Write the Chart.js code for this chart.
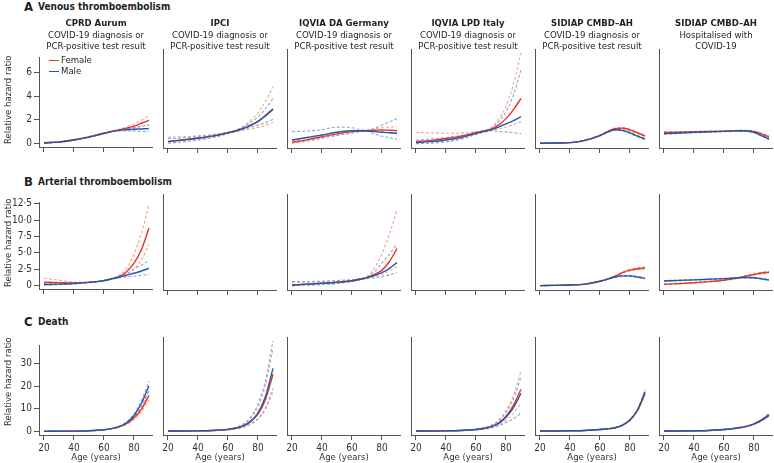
<!DOCTYPE html>
<html>
<head>
<meta charset="utf-8">
<script src="https://cdn.jsdelivr.net/npm/chart.js@4"></script>
<style>
body { margin: 0; background: #fff; font-family: 'Liberation Sans Narrow', 'DejaVu Sans Condensed', sans-serif; color: #231f20; }
#wrap { position: relative; width: 774px; height: 463px; overflow: hidden; }
#wrap canvas { position: absolute; }
.lbl { position: absolute; white-space: nowrap; font-size: 9px; line-height: 11.5px; }
.ptitle { text-align: center; width: 124px; font-size: 9.5px; }
.ptitle b { font-weight: bold; }
.rowletter { font-size: 13px; font-weight: bold; line-height: 13px; }
.rowname { font-weight: bold; font-size: 10px; }
.ylab { transform: rotate(-90deg); transform-origin: center; width: 120px; text-align: center; color: #333; font-size: 9.5px; }
.leg { font-size: 9.5px; }
.sw { position: absolute; width: 10px; height: 0; border-top: 1.5px solid; }
</style>
</head>
<body>
<div id="wrap"></div>
<script>
const ages = [20, 30, 40, 50, 60, 65, 70, 75, 80, 85, 90];
const xTicks = [20, 40, 60, 80];
const yTicksA = [0, 2, 4, 6];
const yTicksB = [0, 2.5, 5, 7.5, 10, 12.5];
const yTicksC = [0, 10, 20, 30];

const outcomes = ['Venous thromboembolism', 'Arterial thromboembolism', 'Death'];
const rowLetters = ['A', 'B', 'C'];
const sources = ['CPRD Aurum', 'IPCI', 'IQVIA DA Germany', 'IQVIA LPD Italy', 'SIDIAP CMBD–AH', 'SIDIAP CMBD–AH'];
const cohorts = [
    ['COVID-19 diagnosis or', 'PCR-positive test result'],
    ['COVID-19 diagnosis or', 'PCR-positive test result'],
    ['COVID-19 diagnosis or', 'PCR-positive test result'],
    ['COVID-19 diagnosis or', 'PCR-positive test result'],
    ['COVID-19 diagnosis or', 'PCR-positive test result'],
    ['Hospitalised with', 'COVID-19']
];

// A: venous thromboembolism
const vteCprdF   = [0.05, 0.12, 0.30, 0.55, 0.85, 1.00, 1.13, 1.28, 1.46, 1.70, 1.95];
const vteCprdFLo = [0.03, 0.10, 0.27, 0.52, 0.82, 0.98, 1.08, 1.18, 1.30, 1.45, 1.60];
const vteCprdFHi = [0.08, 0.15, 0.33, 0.58, 0.88, 1.02, 1.18, 1.38, 1.63, 1.97, 2.35];
const vteCprdM   = [0.03, 0.10, 0.28, 0.53, 0.85, 1.00, 1.10, 1.15, 1.19, 1.22, 1.25];
const vteCprdMLo = [0.02, 0.08, 0.25, 0.50, 0.82, 0.98, 1.05, 1.05, 1.03, 1.00, 0.98];
const vteCprdMHi = [0.05, 0.12, 0.31, 0.56, 0.88, 1.02, 1.15, 1.25, 1.35, 1.45, 1.55];

const vteIpciF   = [0.20, 0.32, 0.46, 0.62, 0.86, 1.00, 1.18, 1.42, 1.72, 2.15, 2.65];
const vteIpciFLo = [0.06, 0.15, 0.30, 0.50, 0.78, 0.94, 1.05, 1.15, 1.28, 1.45, 1.65];
const vteIpciFHi = [0.52, 0.56, 0.63, 0.73, 0.92, 1.06, 1.35, 1.80, 2.40, 3.30, 4.40];
const vteIpciM   = [0.18, 0.30, 0.44, 0.60, 0.85, 1.00, 1.20, 1.45, 1.75, 2.20, 2.70];
const vteIpciMLo = [0.08, 0.17, 0.32, 0.50, 0.80, 0.96, 1.10, 1.28, 1.45, 1.65, 1.90];
const vteIpciMHi = [0.40, 0.48, 0.58, 0.70, 0.90, 1.04, 1.30, 1.65, 2.10, 2.70, 3.50];

const vteGerF   = [0.13, 0.32, 0.56, 0.78, 0.95, 1.00, 1.03, 1.06, 1.08, 1.06, 1.03];
const vteGerFLo = [0.06, 0.22, 0.45, 0.68, 0.86, 0.97, 0.99, 0.98, 0.94, 0.86, 0.78];
const vteGerFHi = [0.25, 0.45, 0.70, 0.90, 1.05, 1.03, 1.07, 1.15, 1.25, 1.30, 1.35];
const vteGerM   = [0.31, 0.50, 0.69, 0.90, 1.02, 1.02, 1.00, 0.95, 0.90, 0.86, 0.82];
const vteGerMLo = [0.10, 0.25, 0.45, 0.65, 0.85, 0.95, 0.96, 0.76, 0.60, 0.48, 0.36];
const vteGerMHi = [0.95, 1.00, 1.10, 1.30, 1.25, 1.12, 1.05, 1.20, 1.45, 1.70, 1.95];

const vteItaF   = [0.18, 0.28, 0.42, 0.60, 0.88, 1.00, 1.15, 1.45, 1.95, 2.65, 3.50];
const vteItaFLo = [0.03, 0.08, 0.20, 0.42, 0.80, 0.95, 1.05, 1.15, 1.30, 1.50, 1.70];
const vteItaFHi = [0.90, 0.86, 0.82, 0.84, 0.95, 1.05, 1.25, 1.90, 2.90, 4.60, 7.00];
const vteItaM   = [0.10, 0.18, 0.31, 0.50, 0.80, 0.95, 1.08, 1.30, 1.55, 1.80, 2.10];
const vteItaMLo = [0.02, 0.06, 0.15, 0.36, 0.72, 0.90, 1.00, 0.97, 0.92, 0.86, 0.80];
const vteItaMHi = [0.30, 0.38, 0.50, 0.65, 0.88, 1.00, 1.20, 1.70, 2.50, 3.80, 5.70];

const vteSidF   = [0.05, 0.07, 0.10, 0.28, 0.66, 0.95, 1.18, 1.22, 1.08, 0.85, 0.62];
const vteSidFLo = [0.04, 0.06, 0.09, 0.26, 0.63, 0.91, 1.13, 1.16, 1.02, 0.79, 0.56];
const vteSidFHi = [0.06, 0.08, 0.11, 0.30, 0.69, 0.99, 1.23, 1.28, 1.14, 0.91, 0.68];
const vteSidM   = [0.05, 0.07, 0.10, 0.28, 0.65, 0.92, 1.10, 1.05, 0.85, 0.60, 0.38];
const vteSidMLo = [0.04, 0.06, 0.09, 0.26, 0.62, 0.88, 1.05, 1.00, 0.80, 0.55, 0.33];
const vteSidMHi = [0.06, 0.08, 0.11, 0.30, 0.68, 0.96, 1.15, 1.10, 0.90, 0.65, 0.43];

const vteHosF   = [0.88, 0.90, 0.93, 0.96, 0.99, 1.00, 1.02, 1.02, 0.95, 0.78, 0.55];
const vteHosFLo = [0.80, 0.84, 0.88, 0.92, 0.96, 0.98, 0.99, 0.98, 0.90, 0.72, 0.48];
const vteHosFHi = [0.96, 0.96, 0.98, 1.00, 1.02, 1.02, 1.05, 1.06, 1.00, 0.84, 0.62];
const vteHosM   = [0.80, 0.85, 0.90, 0.93, 0.97, 1.00, 1.02, 1.00, 0.90, 0.65, 0.38];
const vteHosMLo = [0.74, 0.80, 0.86, 0.90, 0.95, 0.98, 0.99, 0.96, 0.85, 0.60, 0.33];
const vteHosMHi = [0.86, 0.90, 0.94, 0.96, 0.99, 1.02, 1.05, 1.04, 0.95, 0.70, 0.43];

// B: arterial thromboembolism
const ateCprdF   = [0.50, 0.42, 0.37, 0.45, 0.72, 1.00, 1.35, 2.10, 3.40, 5.50, 8.80];
const ateCprdFLo = [0.18, 0.22, 0.27, 0.40, 0.68, 0.95, 1.20, 1.70, 2.50, 3.90, 6.30];
const ateCprdFHi = [1.10, 0.80, 0.52, 0.52, 0.77, 1.05, 1.50, 2.60, 4.80, 8.00, 12.40];
const ateCprdM   = [0.12, 0.18, 0.28, 0.45, 0.72, 0.98, 1.25, 1.55, 1.85, 2.20, 2.60];
const ateCprdMLo = [0.05, 0.10, 0.20, 0.40, 0.68, 0.93, 1.15, 1.30, 1.40, 1.55, 1.70];
const ateCprdMHi = [0.30, 0.32, 0.38, 0.50, 0.76, 1.03, 1.35, 1.80, 2.50, 3.10, 3.80];

const ateGerF   = [0.14, 0.25, 0.37, 0.50, 0.70, 0.90, 1.15, 1.60, 2.20, 3.40, 5.20];
const ateGerFLo = [0.04, 0.10, 0.20, 0.35, 0.60, 0.80, 1.00, 1.25, 1.60, 2.10, 2.70];
const ateGerFHi = [0.50, 0.55, 0.60, 0.70, 0.85, 1.00, 1.30, 2.50, 4.50, 7.20, 10.60];
const ateGerM   = [0.14, 0.25, 0.37, 0.52, 0.75, 0.93, 1.15, 1.45, 1.85, 2.45, 3.25];
const ateGerMLo = [0.04, 0.10, 0.20, 0.36, 0.62, 0.85, 1.02, 1.15, 1.30, 1.55, 1.85];
const ateGerMHi = [0.60, 0.62, 0.66, 0.75, 0.88, 1.02, 1.30, 2.00, 3.20, 4.40, 5.80];

const ateSidF   = [0.05, 0.08, 0.14, 0.25, 0.65, 0.95, 1.35, 1.85, 2.20, 2.40, 2.50];
const ateSidFLo = [0.04, 0.07, 0.12, 0.23, 0.61, 0.90, 1.28, 1.76, 2.09, 2.27, 2.34];
const ateSidFHi = [0.06, 0.09, 0.16, 0.27, 0.69, 1.00, 1.42, 1.94, 2.31, 2.53, 2.66];
const ateSidM   = [0.05, 0.08, 0.14, 0.25, 0.65, 0.95, 1.25, 1.40, 1.40, 1.25, 1.05];
const ateSidMLo = [0.04, 0.07, 0.12, 0.23, 0.61, 0.90, 1.18, 1.32, 1.31, 1.16, 0.96];
const ateSidMHi = [0.06, 0.09, 0.16, 0.27, 0.69, 1.00, 1.32, 1.48, 1.49, 1.34, 1.14];

const ateHosF   = [0.23, 0.33, 0.45, 0.60, 0.80, 0.95, 1.15, 1.38, 1.60, 1.80, 1.90];
const ateHosFLo = [0.19, 0.29, 0.41, 0.56, 0.76, 0.91, 1.10, 1.31, 1.51, 1.69, 1.77];
const ateHosFHi = [0.27, 0.37, 0.49, 0.64, 0.84, 0.99, 1.20, 1.45, 1.69, 1.91, 2.03];
const ateHosM   = [0.70, 0.78, 0.85, 0.93, 1.02, 1.08, 1.14, 1.17, 1.15, 1.00, 0.83];
const ateHosMLo = [0.65, 0.73, 0.81, 0.89, 0.98, 1.04, 1.10, 1.12, 1.09, 0.94, 0.76];
const ateHosMHi = [0.75, 0.83, 0.89, 0.97, 1.06, 1.12, 1.18, 1.22, 1.21, 1.06, 0.90];

// C: death
const dthCprdF   = [0.00, 0.02, 0.08, 0.25, 0.70, 1.20, 2.00, 3.40, 5.90, 9.80, 15.90];
const dthCprdFLo = [0.00, 0.01, 0.06, 0.22, 0.65, 1.12, 1.85, 3.10, 5.30, 8.70, 13.90];
const dthCprdFHi = [0.01, 0.03, 0.10, 0.28, 0.75, 1.28, 2.15, 3.70, 6.50, 10.90, 18.00];
const dthCprdM   = [0.00, 0.02, 0.08, 0.25, 0.70, 1.20, 2.10, 3.80, 7.00, 12.50, 20.00];
const dthCprdMLo = [0.00, 0.01, 0.06, 0.22, 0.65, 1.12, 1.95, 3.50, 6.40, 11.30, 17.90];
const dthCprdMHi = [0.01, 0.03, 0.10, 0.28, 0.75, 1.28, 2.25, 4.10, 7.60, 13.70, 22.10];

const dthIpciF   = [0.00, 0.02, 0.07, 0.22, 0.63, 1.10, 2.00, 3.70, 6.80, 12.80, 23.00];
const dthIpciFLo = [0.00, 0.01, 0.04, 0.15, 0.48, 0.85, 1.50, 2.70, 4.80, 8.80, 15.80];
const dthIpciFHi = [0.01, 0.04, 0.11, 0.30, 0.82, 1.42, 2.65, 5.10, 9.70, 18.60, 33.50];
const dthIpciM   = [0.00, 0.02, 0.07, 0.22, 0.65, 1.15, 2.10, 3.90, 7.40, 14.00, 25.40];
const dthIpciMLo = [0.00, 0.01, 0.04, 0.15, 0.50, 0.88, 1.55, 2.80, 5.00, 9.30, 17.30];
const dthIpciMHi = [0.01, 0.04, 0.12, 0.32, 0.85, 1.50, 2.80, 5.50, 11.00, 20.50, 36.50];

const dthItaF   = [0.00, 0.02, 0.07, 0.22, 0.60, 1.00, 1.75, 3.20, 6.00, 10.50, 16.90];
const dthItaFLo = [0.00, 0.01, 0.04, 0.15, 0.45, 0.75, 1.30, 2.30, 4.30, 7.20, 11.30];
const dthItaFHi = [0.00, 0.04, 0.12, 0.32, 0.80, 1.30, 2.30, 4.30, 8.30, 14.50, 24.40];
const dthItaM   = [0.00, 0.02, 0.07, 0.22, 0.60, 1.00, 1.70, 3.00, 5.60, 9.50, 15.30];
const dthItaMLo = [0.00, 0.01, 0.04, 0.14, 0.42, 0.70, 1.20, 2.00, 3.40, 5.00, 7.20];
const dthItaMHi = [0.00, 0.04, 0.12, 0.30, 0.78, 1.28, 2.20, 4.00, 7.60, 13.00, 21.80];

const dthSidF   = [0.00, 0.02, 0.08, 0.22, 0.60, 0.90, 1.30, 2.40, 4.50, 8.40, 15.20];
const dthSidFLo = [0.00, 0.01, 0.07, 0.20, 0.56, 0.85, 1.22, 2.28, 4.28, 7.98, 14.40];
const dthSidFHi = [0.01, 0.03, 0.09, 0.24, 0.64, 0.95, 1.38, 2.52, 4.72, 8.82, 16.00];
const dthSidM   = [0.00, 0.02, 0.08, 0.22, 0.60, 0.90, 1.30, 2.40, 4.50, 8.50, 15.90];
const dthSidMLo = [0.00, 0.01, 0.07, 0.20, 0.56, 0.85, 1.22, 2.28, 4.28, 8.08, 15.10];
const dthSidMHi = [0.01, 0.03, 0.09, 0.24, 0.64, 0.95, 1.38, 2.52, 4.72, 8.92, 16.70];

const dthHosF   = [0.00, 0.02, 0.08, 0.22, 0.60, 0.90, 1.30, 1.90, 2.90, 4.50, 6.70];
const dthHosFLo = [0.00, 0.01, 0.07, 0.20, 0.56, 0.85, 1.22, 1.80, 2.75, 4.25, 6.20];
const dthHosFHi = [0.01, 0.03, 0.09, 0.24, 0.64, 0.95, 1.38, 2.00, 3.05, 4.75, 7.20];
const dthHosM   = [0.00, 0.02, 0.08, 0.22, 0.60, 0.90, 1.30, 1.90, 2.80, 4.30, 6.30];
const dthHosMLo = [0.00, 0.01, 0.07, 0.20, 0.56, 0.85, 1.22, 1.80, 2.65, 4.05, 5.90];
const dthHosMHi = [0.01, 0.03, 0.09, 0.24, 0.64, 0.95, 1.38, 2.00, 2.95, 4.55, 6.70];

// [female, female lo, female hi, male, male lo, male hi]; null = no estimate
const panels = [
    [
        [vteCprdF, vteCprdFLo, vteCprdFHi, vteCprdM, vteCprdMLo, vteCprdMHi],
        [vteIpciF, vteIpciFLo, vteIpciFHi, vteIpciM, vteIpciMLo, vteIpciMHi],
        [vteGerF, vteGerFLo, vteGerFHi, vteGerM, vteGerMLo, vteGerMHi],
        [vteItaF, vteItaFLo, vteItaFHi, vteItaM, vteItaMLo, vteItaMHi],
        [vteSidF, vteSidFLo, vteSidFHi, vteSidM, vteSidMLo, vteSidMHi],
        [vteHosF, vteHosFLo, vteHosFHi, vteHosM, vteHosMLo, vteHosMHi]
    ],
    [
        [ateCprdF, ateCprdFLo, ateCprdFHi, ateCprdM, ateCprdMLo, ateCprdMHi],
        null,
        [ateGerF, ateGerFLo, ateGerFHi, ateGerM, ateGerMLo, ateGerMHi],
        null,
        [ateSidF, ateSidFLo, ateSidFHi, ateSidM, ateSidMLo, ateSidMHi],
        [ateHosF, ateHosFLo, ateHosFHi, ateHosM, ateHosMLo, ateHosMHi]
    ],
    [
        [dthCprdF, dthCprdFLo, dthCprdFHi, dthCprdM, dthCprdMLo, dthCprdMHi],
        [dthIpciF, dthIpciFLo, dthIpciFHi, dthIpciM, dthIpciMLo, dthIpciMHi],
        null,
        [dthItaF, dthItaFLo, dthItaFHi, dthItaM, dthItaMLo, dthItaMHi],
        [dthSidF, dthSidFLo, dthSidFHi, dthSidM, dthSidMLo, dthSidMHi],
        [dthHosF, dthHosFLo, dthHosFHi, dthHosM, dthHosMLo, dthHosMHi]
    ]
];

const RED = '#e8332a', BLUE = '#1f5aa8', RED_CI = '#f5a684', BLUE_CI = '#8ea8d8', AXIS = '#555';
const FONT = "'Liberation Sans Narrow', 'DejaVu Sans Condensed', sans-serif";
Chart.defaults.font.family = FONT;
Chart.defaults.font.size = 10;
Chart.defaults.color = '#333';

// layout
const colX = [39, 163, 287, 411, 535, 659];
const rowTop = [49, 194, 337];
const rowBottom = [148, 290, 435];
const plotW = 114;
const yRange = [[-0.31, 7.31], [-0.56, 12.78], [-1.62, 38.1]];
const yTicks = [yTicksA, yTicksB, yTicksC];
const yFmt = [v => String(v), v => v === 0 ? '0' : v.toFixed(1).replace('.', '·'), v => String(v)];

const wrap = document.getElementById('wrap');

function pts(arr) {
    return ages.map((a, i) => ({ x: a, y: arr[i] }));
}

function line(arr, color, dashed, order) {
    return {
        data: pts(arr),
        borderColor: color,
        borderWidth: dashed ? 1.1 : 1.4,
        borderDash: dashed ? [3, 2] : [],
        pointRadius: 0,
        cubicInterpolationMode: 'monotone',
        fill: false,
        order: order
    };
}

function addText(html, cls, left, top) {
    const d = document.createElement('div');
    d.className = 'lbl ' + cls;
    d.innerHTML = html;
    d.style.left = left + 'px';
    d.style.top = top + 'px';
    wrap.appendChild(d);
}

function makePanel(r, c, s) {
    const padL = c === 0 ? 39 : 10;
    const padB = r === 2 ? 28 : 7;
    const w = padL + plotW;
    const h = rowBottom[r] - rowTop[r] + padB;
    const cv = document.createElement('canvas');
    cv.width = w; cv.height = h;
    cv.style.width = w + 'px'; cv.style.height = h + 'px';
    cv.style.left = (colX[c] - padL) + 'px';
    cv.style.top = rowTop[r] + 'px';
    wrap.appendChild(cv);

    const datasets = s ? [
        line(s[3], BLUE, false, 0),
        line(s[0], RED, false, 1),
        line(s[4], BLUE_CI, true, 2),
        line(s[5], BLUE_CI, true, 3),
        line(s[1], RED_CI, true, 4),
        line(s[2], RED_CI, true, 5)
    ] : [];

    new Chart(cv, {
        type: 'line',
        data: { datasets: datasets },
        options: {
            responsive: false,
            animation: false,
            events: [],
            layout: { padding: 0 },
            plugins: { legend: { display: false }, tooltip: { enabled: false } },
            scales: {
                x: {
                    type: 'linear',
                    min: 16.67,
                    max: 92.67,
                    afterBuildTicks: sc => { sc.ticks = xTicks.map(v => ({ value: v })); },
                    afterFit: sc => { sc.height = padB; },
                    grid: { drawOnChartArea: false, drawTicks: true, tickLength: 5, color: AXIS },
                    border: { color: AXIS, width: 1 },
                    ticks: { display: r === 2, padding: 2, color: '#333', font: { size: 10 }, maxRotation: 0 },
                    title: { display: r === 2, text: 'Age (years)', padding: 0, color: '#333', font: { size: 9.5 } }
                },
                y: {
                    type: 'linear',
                    min: yRange[r][0],
                    max: yRange[r][1],
                    afterBuildTicks: sc => { sc.ticks = yTicks[r].map(v => ({ value: v })); },
                    afterFit: sc => { sc.width = padL; },
                    grid: { drawOnChartArea: false, drawTicks: c === 0, tickLength: 5, color: AXIS },
                    border: { color: AXIS, width: 1 },
                    ticks: { display: c === 0, padding: 2, color: '#333', font: { size: 10 }, callback: yFmt[r] }
                }
            }
        }
    });
}

for (let r = 0; r < 3; r++) {
    for (let c = 0; c < 6; c++) {
        makePanel(r, c, panels[r][c]);
    }
}

// row headings
const rowHeadY = [0, 175, 315];
for (let r = 0; r < 3; r++) {
    addText(rowLetters[r], 'rowletter', 24, rowHeadY[r]);
    addText(outcomes[r], 'rowname', 38, rowHeadY[r] + 1);
}

// panel titles
for (let c = 0; c < 6; c++) {
    addText('<b>' + sources[c] + '</b><br>' + cohorts[c][0] + '<br>' + cohorts[c][1], 'ptitle', colX[c] + 57 - 62, 17);
}

// y axis titles
const yLabCenter = [100, 243, 382];
for (let r = 0; r < 3; r++) {
    addText('Relative hazard ratio', 'ylab', 8 - 60, yLabCenter[r] - 6);
}

// legend
const leg = [['Female', RED], ['Male', BLUE]];
leg.forEach((l, i) => {
    const sw = document.createElement('div');
    sw.className = 'sw';
    sw.style.left = '49px';
    sw.style.top = (60 + i * 11) + 'px';
    sw.style.borderTopColor = l[1];
    wrap.appendChild(sw);
    addText(l[0], 'leg', 61, 54 + i * 11);
});
</script>
</body>
</html>
